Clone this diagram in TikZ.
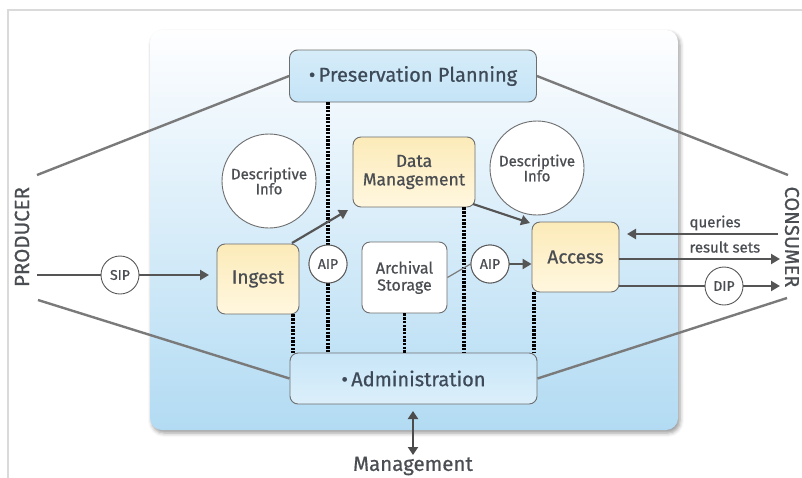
\documentclass[tikz,border=0pt]{standalone}
\usepackage{fontspec}
\setmainfont{Fira Sans}[FakeBold=0.7]
\usetikzlibrary{arrows.meta,shadows.blur}
\definecolor{txt}{HTML}{4A4D52}
\definecolor{btxt}{HTML}{3E4A57}
\definecolor{edge}{HTML}{6E6E6E}
\definecolor{arr}{HTML}{555555}
\definecolor{gline}{HTML}{7A7A7A}
\definecolor{frame}{HTML}{DADADA}
\definecolor{yelA}{HTML}{FCEBB9}
\definecolor{yelB}{HTML}{FFF7DF}
\definecolor{pbA}{HTML}{C8E6F7}
\tikzset{
  fs/.style={font=\fontsize{#1}{#1}\selectfont},
  bluebox/.style={draw=edge, line width=0.9pt, rounded corners=8pt, top color=#1, bottom color=#1!70!white, text=btxt, fs=20, inner sep=0pt},
  yelbox/.style={draw=edge, line width=0.9pt, rounded corners=8pt, top color=yelA, bottom color=yelB, text=txt, inner sep=0pt, align=center},
  whitebox/.style={draw=edge, line width=0.9pt, rounded corners=8pt, fill=white, text=txt, inner sep=0pt, align=center},
  bigcirc/.style={circle, draw=edge, line width=0.9pt, fill=white, minimum size=94pt, inner sep=0pt, text=txt, align=center, fs=15},
  smallcirc/.style={circle, draw=edge!80!black, line width=0.9pt, fill=white, minimum size=38pt, inner sep=0pt, text=txt, fs=14},
  flow/.style={draw=arr, line width=2.2pt, -{Triangle[length=9pt,width=10pt]}},
  plain/.style={draw=arr, line width=2.2pt},
  thin/.style={draw=gline, line width=1.2pt},
  grayline/.style={draw=gline, line width=2.4pt},
  dots/.style={draw=black, line width=3.2pt, dash pattern=on 2.4pt off 1.3pt},
}
\begin{document}
\begin{tikzpicture}[x=1pt,y=-1pt]
\useasboundingbox (0,0) rectangle (802,477);
% outer frame
\draw[frame, line width=1.5pt] (8,480) -- (8,10) -- (805,10);
% main box
\path[rounded corners=12pt, top color=white!92!blue!4, bottom color={rgb,255:red,178;green,219;blue,243}, blur shadow={shadow xshift=2pt, shadow yshift=-3pt, shadow blur radius=4pt, shadow opacity=40}]
  (150,30) rectangle (678,430);
% boxes
\node[bluebox=pbA, minimum width=247pt, minimum height=52pt, top color={rgb,255:red,214;green,236;blue,249}, bottom color={rgb,255:red,196;green,228;blue,247}] (pp) at (413,76) {•\,Preservation Planning};
\node[bluebox=pbA, minimum width=247pt, minimum height=51pt, top color={rgb,255:red,200;green,230;blue,248}, bottom color={rgb,255:red,220;green,239;blue,250}] (adm) at (413.5,378.5) {•\,Administration};
\node[yelbox, minimum width=122pt, minimum height=70pt, fs=17.5] (dm) at (414,172) {Data\\[1pt]Management};
\node[yelbox, minimum width=82pt, minimum height=70pt, fs=19] (ing) at (258,279) {Ingest};
\node[whitebox, minimum width=85pt, minimum height=71pt, fs=16] (as) at (404.5,277.5) {Archival\\[1pt]Storage};
\node[yelbox, minimum width=87pt, minimum height=70pt, fs=19] (acc) at (575.5,257) {Access};
\node[bigcirc] (dl) at (269,181) {Descriptive\\Info};
\node[bigcirc] (dr) at (537,168) {Descriptive\\Info};
% named coordinates
\coordinate (prodT) at (37,175);
\coordinate (prodM) at (37,275);
\coordinate (prodB) at (38,300);
\coordinate (consT) at (788,175);
\coordinate (consB) at (787,298);
\coordinate (qS) at (778,234);
\coordinate (rsE) at (780,259);
\coordinate (dipE) at (780,286);
\coordinate (mgT) at (413,411);
\coordinate (mgB) at (413,455);
% dotted lines
\node[smallcirc] (aip1) at (328,264) {AIP};
\node[smallcirc] (aip2) at (490,264) {AIP};
\draw[dots] (pp.south -| aip1) -- (aip1.north);
\draw[dots] (aip1.south) -- (adm.north -| aip1);
\draw[dots] (ing.south -| 293,0) -- (adm.north -| 293,0);
\draw[dots] (as.south) -- (adm.north -| as);
\draw[dots] (dm.south -| 464,0) -- (adm.north -| 464,0);
\draw[dots] (acc.south -| 534,0) -- (adm.north -| 534,0);
\node[smallcirc] at (aip1) {AIP};
% flows
\draw[thin] (as.east) -- (aip2.west);
\node[smallcirc] at (aip2) {AIP};
\draw[flow] (aip2.east) -- (acc.west |- aip2);
\draw[flow] (292,243) -- (348,210);
\draw[flow] (473,204) -- (530,223);
\node[smallcirc] (sip) at (120,275) {SIP};
\draw[plain] (prodM) -- (sip.west);
\draw[flow] (sip.east) -- (209,275);
\draw[flow] (qS) -- (627,234);
\draw[flow] (acc.east |- rsE) -- (rsE);
\node[smallcirc] (dip) at (724,286) {DIP};
\draw[plain] (acc.east |- dip) -- (dip.west);
\draw[flow] (dip.east) -- (dipE);
\node[text=txt, fs=15, anchor=west] at (686,223) {queries};
\node[text=txt, fs=15, anchor=west] at (686,247) {result sets};
% gray lines
\draw[grayline] (prodT) -- (pp.west);
\draw[grayline] (prodB) -- (adm.west);
\draw[grayline] (pp.east) -- (consT);
\draw[grayline] (adm.east) -- (consB);
% management
\draw[draw=black!70, line width=2.2pt, {Triangle[length=8pt,width=10pt]}-{Triangle[length=8pt,width=10pt]}] (mgT) -- (mgB);
\node[text=txt, fs=20.5] (mg) at (413,466) {Management};
% side labels
\node[text=txt, fs=20.5, rotate=90] (prod) at (22,237) {PRODUCER};
\node[text=txt, fs=20, rotate=-90] (cons) at (792,237) {CONSUMER};
\end{tikzpicture}
\end{document}
